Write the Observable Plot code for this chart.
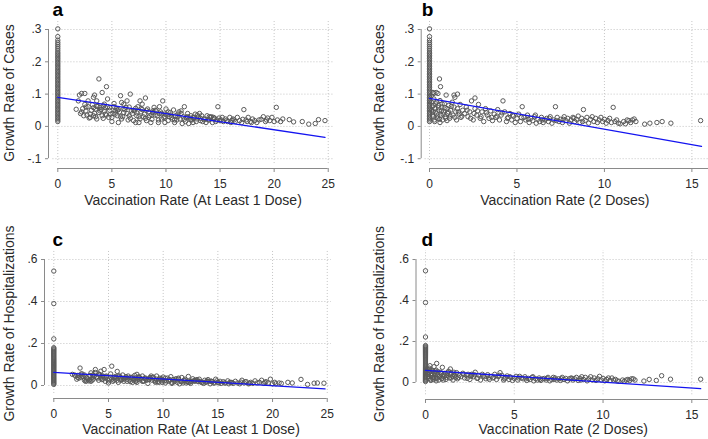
<!DOCTYPE html>
<html><head><meta charset="utf-8">
<script src="https://cdn.jsdelivr.net/npm/d3@7"></script>
<script src="https://cdn.jsdelivr.net/npm/@observablehq/plot@0.6"></script>
<style>
body{margin:0;background:#fff;}
#wrap{position:relative;width:708px;height:439px;overflow:hidden;background:#fff;}
#wrap svg{position:absolute;}
</style></head><body><div id="wrap"></div>
<script>
// ---------- DATA ----------
const xLabel1 = "Vaccination Rate (At Least 1 Dose)";
const xLabel2 = "Vaccination Rate (2 Doses)";
const yLabelCases = "Growth Rate of Cases";
const yLabelHosp = "Growth Rate of Hospitalizations";
const panelLetters = ["a", "b", "c", "d"];
const xTicks1 = [0, 5, 10, 15, 20, 25];
const xTicks2 = [0, 5, 10, 15];
const yTicksCases = [-0.1, 0, 0.1, 0.2, 0.3];
const yTicksHosp = [0, 0.2, 0.4, 0.6];

// observations with vaccination rate = 0 (column at x = 0)
const casesZero = [.015,.020,.025,.030,.035,.040,.045,.050,.055,.060,.065,.070,.075,.080,.085,.090,.095,.100,.105,.110,.115,.120,.125,.130,.135,.140,.145,.150,.155,.160,.165,.170,.175,.180,.185,.190,.195,.200,.205,.210,.215,.220,.225,.230,.236,.242,.248,.254,.260,.267,.278,.302];
const hospZero = [.005,.010,.015,.020,.025,.030,.035,.040,.045,.050,.055,.060,.065,.070,.075,.080,.085,.090,.095,.100,.105,.110,.115,.120,.125,.130,.135,.140,.145,.150,.155,.160,.165,.170,.175,.180,.222,.390,.545];

// panels a & c: vaccination rate (at least 1 dose) > 0
const dose1 = [
1.7,1.9,2.0,2.2,2.5,2.1,2.6,2.8,2.4,2.9,3.0,2.8,3.3,3.4,3.6,3.8,3.9,4.1,4.1,4.3,4.5,4.6,4.7,3.6,3.3,3.8,4.3,4.6,4.9,3.5,3.2,
5.2,5.3,5.5,5.8,5.9,5.9,6.1,6.3,6.4,6.6,6.7,6.8,7.0,5.0,5.6,5.2,6.1,
7.1,7.3,7.4,7.6,7.6,7.8,8.0,8.1,8.2,8.3,8.5,8.6,8.8,8.9,7.2,7.5,8.4,
9.1,9.2,9.4,9.6,9.7,9.9,10.0,10.2,10.4,10.5,10.7,10.8,10.9,9.3,9.9,
11.1,11.3,11.4,11.6,11.7,11.8,12.0,12.2,12.3,12.5,12.7,12.9,13.0,11.5,12.1,
13.2,13.3,13.5,13.7,13.8,14.0,14.1,14.3,14.4,14.6,14.8,14.9,15.0,
15.2,15.3,15.5,15.7,15.9,16.0,16.2,16.4,16.6,16.8,17.0,
17.2,17.4,17.6,17.8,18.0,18.2,18.4,19.0,19.2,19.4,19.6,19.8,20.0,
20.2,20.3,20.6,20.8,21.4,21.8,22.6,23.2,23.8,24.1,24.7,
2.3,2.7,3.1,3.4,3.7,4.0,4.2,4.4,4.8,5.1,5.4,5.7,6.0,6.2,6.5,6.9,7.2,7.7,7.9,8.2,8.7,9.0,9.5,9.8,10.1,10.6,11.0,11.9,12.4,12.8,13.4,13.9,14.2,14.7,16.1,17.5,18.6,19.3,
2.2,2.6,3.0,3.3,3.5,3.9,4.2,4.5,4.8,5.0,5.3,5.6,5.8,6.1,6.4,6.7,7.0,7.3,7.5,7.8,8.1,8.4,8.7,9.0,9.3,9.6,9.9,10.2,10.5,10.8,11.1,11.4,11.7,12.0,12.3,12.6,12.9,13.2,13.6,14.0,14.5,15.1,15.6,16.3,17.1,17.9,18.8,2.5,3.6,4.4,5.5,6.6,7.7,8.8,9.4,10.3,11.2,12.5,13.1,14.4];
const cases1 = [
.053,.079,.097,.102,.102,.040,.048,.061,.033,.026,.038,.079,.090,.097,.079,.147,.059,.033,.105,.048,.123,.085,.028,.023,.033,.043,.069,.061,.038,.054,.067,
.061,.048,.033,.095,.074,.023,.043,.059,.079,.033,.100,.048,.018,.015,.012,.071,.069,
.048,.033,.061,.079,.023,.069,.038,.088,.018,.054,.033,.012,.043,.059,.012,.012,.028,
.048,.033,.061,.023,.079,.038,.054,.018,.043,.028,.051,.012,.033,.012,.012,
.038,.023,.048,.030,.061,.015,.040,.026,.033,.012,.038,.023,.030,.009,.009,
.018,.033,.023,.012,.033,.020,.028,.012,.023,.015,.061,.026,.018,
.028,.015,.023,.015,.028,.012,.023,.015,.028,.018,.012,
.052,.020,.028,.015,.023,.018,.012,.030,.015,.026,.018,.028,.015,
.059,.020,.015,.023,.021,.014,.015,.007,.009,.021,.018,
.055,.035,.050,.040,.062,.052,.025,.038,.050,.040,.056,.045,.030,.052,.020,.040,.056,.045,.030,.050,.022,.035,.045,.027,.036,.022,.020,.028,.020,.015,.015,.020,.030,.020,.019,.015,.020,.020,
.045,.060,.028,.058,.030,.048,.064,.035,.058,.028,.038,.052,.030,.055,.040,.025,.050,.042,.030,.052,.025,.045,.035,.050,.020,.040,.030,.045,.035,.020,.030,.040,.022,.030,.020,.028,.035,.025,.022,.030,.025,.020,.018,.020,.022,.012,.022,.068,.062,.058,.050,.060,.055,.048,.040,.030,.045,.028,.040,.028];
const hosp1 = [
.053,.050,.045,.048,.040,.030,.055,.025,.083,.020,.035,.050,.045,.060,.030,.076,.040,.025,.055,.035,.045,.076,.020,.050,.028,.062,.068,.040,.030,.038,.022,
.040,.092,.025,.067,.045,.015,.035,.050,.020,.040,.030,.045,.018,.012,.030,.055,.025,
.035,.025,.048,.053,.015,.040,.030,.045,.020,.035,.025,.010,.038,.045,.015,.020,.030,
.040,.025,.045,.015,.035,.030,.040,.012,.035,.020,.042,.010,.028,.020,.015,
.030,.015,.035,.020,.038,.012,.030,.018,.043,.010,.032,.020,.025,.008,.012,
.020,.030,.015,.010,.025,.018,.028,.008,.020,.012,.030,.022,.015,
.020,.010,.018,.012,.022,.008,.015,.010,.020,.012,.008,
.025,.012,.018,.008,.015,.010,.022,.025,.010,.018,.012,.030,.008,
.015,.008,.012,.010,.015,.012,.029,.005,.011,.012,.011,
.035,.042,.030,.020,.045,.035,.050,.028,.042,.030,.020,.038,.045,.028,.035,.025,.040,.028,.035,.022,.030,.025,.018,.032,.022,.028,.018,.025,.015,.022,.018,.015,.020,.012,.015,.018,.012,.015,
.038,.045,.022,.048,.025,.040,.052,.030,.045,.022,.030,.042,.025,.040,.030,.020,.038,.032,.022,.040,.020,.035,.028,.038,.015,.030,.022,.035,.025,.015,.022,.030,.018,.022,.015,.020,.025,.018,.015,.022,.018,.012,.012,.014,.016,.010,.015,.055,.050,.045,.038,.042,.040,.035,.030,.022,.032,.020,.028,.020];

// panels b & d: vaccination rate (2 doses) > 0
const dose2 = [
0.57,0.63,0.38,0.25,0.48,0.95,1.4,1.6,1.45,2.4,2.6,4.2,5.3,7.2,8.8,10.5,11.3,11.7,12.3,12.6,13.0,13.3,13.8,15.5,
0.1,0.15,0.2,0.2,0.25,0.3,0.35,0.4,0.45,0.5,0.55,0.6,0.65,0.7,0.75,0.8,0.85,0.9,1.0,1.05,1.1,1.15,1.2,1.3,1.35,1.4,1.5,1.55,1.6,1.7,1.75,1.8,1.9,2.0,0.3,0.6,1.0,0.1,0.2,
2.1,2.2,2.3,2.5,2.6,2.7,2.8,2.9,3.0,3.1,3.2,3.3,3.4,3.5,3.6,3.7,3.8,3.9,4.0,4.1,4.3,4.4,4.5,4.6,4.7,4.8,4.9,5.0,
5.1,5.2,5.4,5.5,5.6,5.7,5.8,5.9,6.0,6.1,6.2,6.3,6.4,6.5,6.6,6.7,6.8,6.9,7.0,7.1,7.3,7.4,7.5,7.6,7.7,7.8,7.9,8.0,
8.1,8.2,8.3,8.4,8.5,8.6,8.7,8.9,9.0,9.1,9.2,9.3,9.4,9.5,9.6,9.7,9.8,9.9,10.0,10.1,10.2,10.3,10.4,10.6,10.7,10.8,10.9,
11.1,11.2,11.4,11.5,11.6,11.8,
0.12,0.18,0.22,0.28,0.33,0.42,0.47,0.52,0.58,0.68,0.72,0.78,0.88,0.93,1.08,1.18,1.25,1.45,1.65,1.85,2.15,2.35,2.55,2.75,2.95,3.25,3.55,3.85,4.15,4.45,4.75,5.25,5.65,6.05,6.45,6.85,7.25,7.65,8.25,8.75];
const cases2 = [
.147,.123,.105,.102,.102,.097,.097,.100,.090,.079,.088,.079,.061,.061,.052,.059,.020,.023,.007,.010,.012,.015,.010,.018,
.075,.060,.045,.030,.085,.055,.070,.040,.025,.065,.050,.080,.035,.060,.020,.045,.070,.030,.055,.040,.065,.025,.050,.075,.035,.060,.045,.020,.055,.038,.068,.028,.050,.040,.015,.012,.018,.095,.105,
.060,.030,.045,.020,.055,.035,.068,.025,.045,.015,.055,.035,.025,.048,.018,.038,.028,.052,.020,.035,.045,.015,.028,.040,.020,.032,.012,.025,
.038,.015,.028,.020,.035,.012,.025,.018,.030,.010,.022,.015,.028,.012,.020,.025,.015,.030,.010,.020,.028,.015,.022,.012,.030,.018,.025,.010,
.020,.028,.015,.022,.032,.012,.025,.018,.028,.010,.022,.030,.015,.025,.012,.020,.028,.015,.022,.010,.018,.025,.012,.015,.020,.010,.008,
.015,.008,.018,.012,.020,.015,
.050,.035,.065,.020,.045,.075,.032,.058,.022,.048,.070,.038,.058,.025,.045,.032,.062,.028,.045,.032,.050,.025,.040,.048,.030,.042,.028,.032,.042,.025,.035,.028,.022,.035,.020,.025,.018,.022,.025,.015];
const hosp2 = [
.055,.093,.060,.082,.077,.074,.066,.050,.045,.040,.035,.048,.030,.025,.028,.022,.012,.018,.007,.015,.010,.033,.016,.016,
.055,.040,.030,.020,.060,.035,.045,.025,.015,.050,.035,.060,.022,.040,.012,.030,.050,.020,.038,.028,.045,.015,.035,.055,.022,.040,.030,.012,.038,.025,.048,.018,.035,.028,.010,.008,.012,.065,.070,
.045,.022,.035,.015,.040,.028,.050,.020,.035,.012,.040,.028,.018,.038,.015,.030,.022,.040,.015,.028,.035,.012,.022,.032,.015,.025,.010,.020,
.030,.012,.022,.018,.028,.010,.020,.015,.025,.008,.018,.012,.022,.010,.018,.020,.012,.025,.008,.015,.022,.012,.018,.010,.025,.015,.020,.008,
.018,.022,.012,.018,.025,.010,.020,.015,.025,.008,.018,.028,.012,.022,.010,.018,.030,.012,.020,.008,.015,.022,.010,.012,.015,.008,.006,
.012,.006,.015,.010,.018,.012,
.040,.028,.050,.015,.035,.055,.025,.045,.018,.038,.052,.030,.045,.020,.035,.025,.048,.022,.035,.025,.040,.020,.030,.038,.022,.032,.022,.025,.035,.018,.028,.022,.018,.028,.015,.020,.015,.018,.020,.012];

// fitted regression lines (end points)
const fitAx = [0, 24.7],  fitAy = [0.090, -0.034];
const fitBx = [0, 15.55], fitBy = [0.087, -0.062];
const fitCx = [0, 24.8],  fitCy = [0.062, -0.016];
const fitDx = [0, 15.5],  fitDy = [0.059, -0.030];

// ---------- LAYOUT ----------
[[dose1,cases1],[dose1,hosp1],[dose2,cases2],[dose2,hosp2]].forEach(([a,b],i)=>{ if(a.length!==b.length) throw new Error("length mismatch "+i+": "+a.length+" vs "+b.length); });

const fmt = d => d === 0 ? "0" : (d < 0 ? "-" : "") + String(Math.abs(d)).replace(/^0/, "");
const FONT = "'Liberation Sans', Arial, sans-serif";
const BLUE = "#1414f0", PT = "#5a5a5a", AX = "#8a8a8a", GRID = "#c4c4c4", TXT = "#2a2a2a";

const panels = [
 {letter: panelLetters[0], left: 0, top: 0, height: 220, mL: 48, mR: 20, mT: 21, mB: 52,
  xd: [-0.86, 25.58], yd: [-0.1303, 0.3248], xt: xTicks1, yt: yTicksCases,
  xs: dose1, ys: cases1, zero: casesZero, fx: fitAx, fy: fitAy,
  gx1: -0.45, gy1: -0.115, xAxisEnd: 25, xl: xLabel1, yl: yLabelCases,
  ylDx: -39, ylY: 0.1034, xlDx: 1.5, xlDy: 36, lDx: 4, lDy: -6},
 {letter: panelLetters[1], left: 354, top: 0, height: 220, mL: 66.7, mR: 0, mT: 21, mB: 52,
  xd: [-0.475, 15.95], yd: [-0.1303, 0.3248], xt: xTicks2, yt: yTicksCases,
  xs: dose2, ys: cases2, zero: casesZero, fx: fitBx, fy: fitBy,
  gx1: -0.25, gy1: -0.115, xAxisEnd: 15.95, xl: xLabel2, yl: yLabelCases,
  ylDx: -41.7, ylY: 0.1034, xlDx: 0, xlDy: 36, lDx: 0.5, lDy: -6},
 {letter: panelLetters[2], left: 0, top: 220, height: 219, mL: 44, mR: 23, mT: 30, mB: 41,
  xd: [-0.85, 25.39], yd: [-0.062, 0.643], xt: xTicks1, yt: yTicksHosp,
  xs: dose1, ys: hosp1, zero: hospZero, fx: fitCx, fy: fitCy,
  gx1: -0.45, gy1: -0.038, xAxisEnd: 25, xl: xLabel1, yl: yLabelHosp,
  ylDx: -35, ylY: 0.295, xlDx: 3, xlDy: 35, lDx: 8, lDy: -5},
 {letter: panelLetters[3], left: 354, top: 220, height: 219, mL: 61.5, mR: 0, mT: 30, mB: 40,
  xd: [-0.535, 15.94], yd: [-0.083, 0.644], xt: xTicks2, yt: yTicksHosp,
  xs: dose2, ys: hosp2, zero: hospZero, fx: fitDx, fy: fitDy,
  gx1: -0.25, gy1: -0.06, xAxisEnd: 15.94, xl: xLabel2, yl: yLabelHosp,
  ylDx: -36.5, ylY: 0.285, xlDx: 1, xlDy: 34, lDx: 5.5, lDy: -5}
];

const wrap = document.getElementById("wrap");
for (const p of panels) {
  const svg = Plot.plot({
    width: 354, height: p.height,
    marginLeft: p.mL, marginRight: p.mR, marginTop: p.mT, marginBottom: p.mB,
    style: {fontFamily: FONT, background: "transparent", overflow: "visible"},
    x: {domain: p.xd}, y: {domain: p.yd},
    marks: [
      Plot.ruleY(p.yt, {y: d => d, x1: p.gx1, x2: p.xd[1], stroke: GRID, strokeDasharray: "1,2"}),
      Plot.ruleX(p.xt, {x: d => d, y1: p.gy1, y2: p.yd[1], stroke: GRID, strokeDasharray: "1,2"}),
      Plot.ruleX([p.xd[0]], {x: d => d, y1: p.yt[0], y2: p.yt[p.yt.length - 1], stroke: AX}),
      Plot.ruleY([p.yd[0]], {y: d => d, x1: p.xt[0], x2: p.xAxisEnd, stroke: AX}),
      Plot.axisY({ticks: p.yt, tickFormat: fmt, tickSize: 3, tickPadding: 4, stroke: AX, fill: TXT, fontSize: 12, label: null}),
      Plot.axisX({ticks: p.xt, tickFormat: d => String(d), tickSize: 4, tickPadding: 7, stroke: AX, fill: TXT, fontSize: 12, label: null}),
      Plot.dot(p.zero, {x: () => 0, y: d => d, r: 2.2, stroke: PT, strokeWidth: 1, fill: "none"}),
      Plot.dot(p.xs, {x: p.xs, y: p.ys, r: 2.2, stroke: PT, strokeWidth: 1, fill: "none"}),
      Plot.line(p.fx, {x: p.fx, y: p.fy, stroke: BLUE, strokeWidth: 1.3}),
      Plot.text([p.yl], {text: d => d, x: () => p.xd[0], y: () => p.ylY, rotate: -90, dx: p.ylDx, fontSize: 14, fill: TXT}),
      Plot.text([p.xl], {text: d => d, frameAnchor: "bottom", dx: p.xlDx, dy: p.xlDy, fontSize: 14, fill: TXT}),
      Plot.text([p.letter], {text: d => d, frameAnchor: "top-left", textAnchor: "start", lineAnchor: "bottom", dx: p.lDx, dy: p.lDy, fontSize: 19, fontWeight: "bold", fill: "#000"})
    ]
  });
  svg.style.left = p.left + "px";
  svg.style.top = p.top + "px";
  wrap.appendChild(svg);
}
</script>
</body></html>
